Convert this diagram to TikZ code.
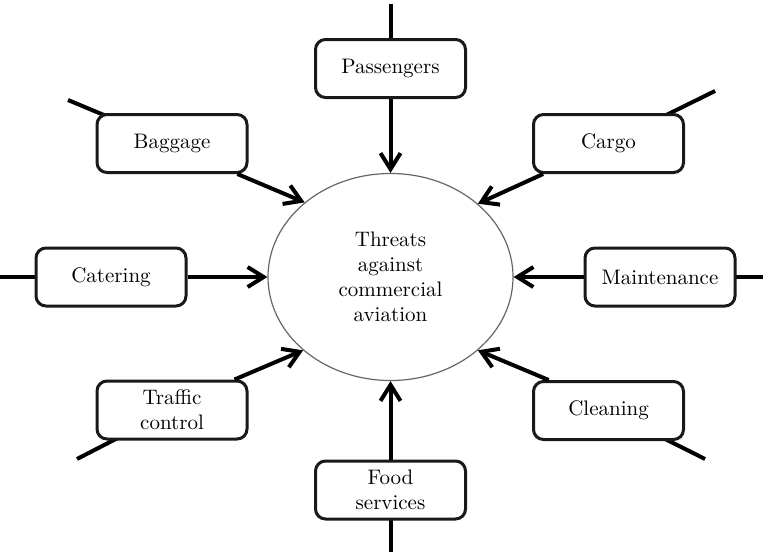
\documentclass[tikz,border=0pt]{standalone}
\usepackage{tikz}
\usetikzlibrary{arrows.meta,shapes.geometric,backgrounds}

\begin{document}
\begin{tikzpicture}[x=0.5pt,y=-0.5pt,
    box/.style={draw=black!90, line width=1.5pt, rounded corners=5pt, fill=white,
                minimum width=75pt, minimum height=29pt, align=center,
                font=\fontsize{10.5}{12.5}\selectfont},
    hub/.style={ellipse, draw=black!60, line width=0.6pt, fill=white, inner sep=0pt,
                minimum width=122.5pt, minimum height=103.5pt, align=center,
                font=\fontsize{10.5}{12.5}\selectfont},
    feed/.style={line width=2pt, -{Straight Barb[length=8pt,width=10pt]}},
    stub/.style={line width=2pt}]
  \useasboundingbox (0,0) rectangle (763,552);

  % Central ellipse
  \node[hub] (threat) at (390.5,277) {Threats\\against\\commercial\\aviation};

  % Eight sources round it
  \foreach \nm/\x/\y/\txt in {pass/390.5/68.5/Passengers, bag/172/143.5/Baggage,
                              cargo/608.5/143.5/Cargo, cater/111/277/Catering,
                              maint/660/277/Maintenance, traffic/172/410/{Traffic\\control},
                              clean/608.5/410.5/Cleaning, food/390.5/490/{Food\\services}} {
    \node[box] (\nm) at (\x,\y) {\txt};
  }

  % Arrows into the ellipse
  \foreach \src/\a/\b in {pass/south/90, bag/-25/139, cargo/205/40, cater/east/180,
                          maint/west/0, traffic/26/220, clean/153/320, food/north/270} {
    \draw[feed] (\src.\a) -- (threat.\b);
  }

  % Free ends behind the boxes
  \begin{scope}[on background layer]
    \foreach \src/\x/\y in {pass/390.5/4, bag/68/100, cargo/715/91, cater/0/277,
                            maint/763/277, traffic/77/459, clean/705/459, food/390.5/552} {
      \coordinate (\src-end) at (\x,\y);
      \draw[stub] (\src.center) -- (\src-end);
    }
  \end{scope}
\end{tikzpicture}
\end{document}
